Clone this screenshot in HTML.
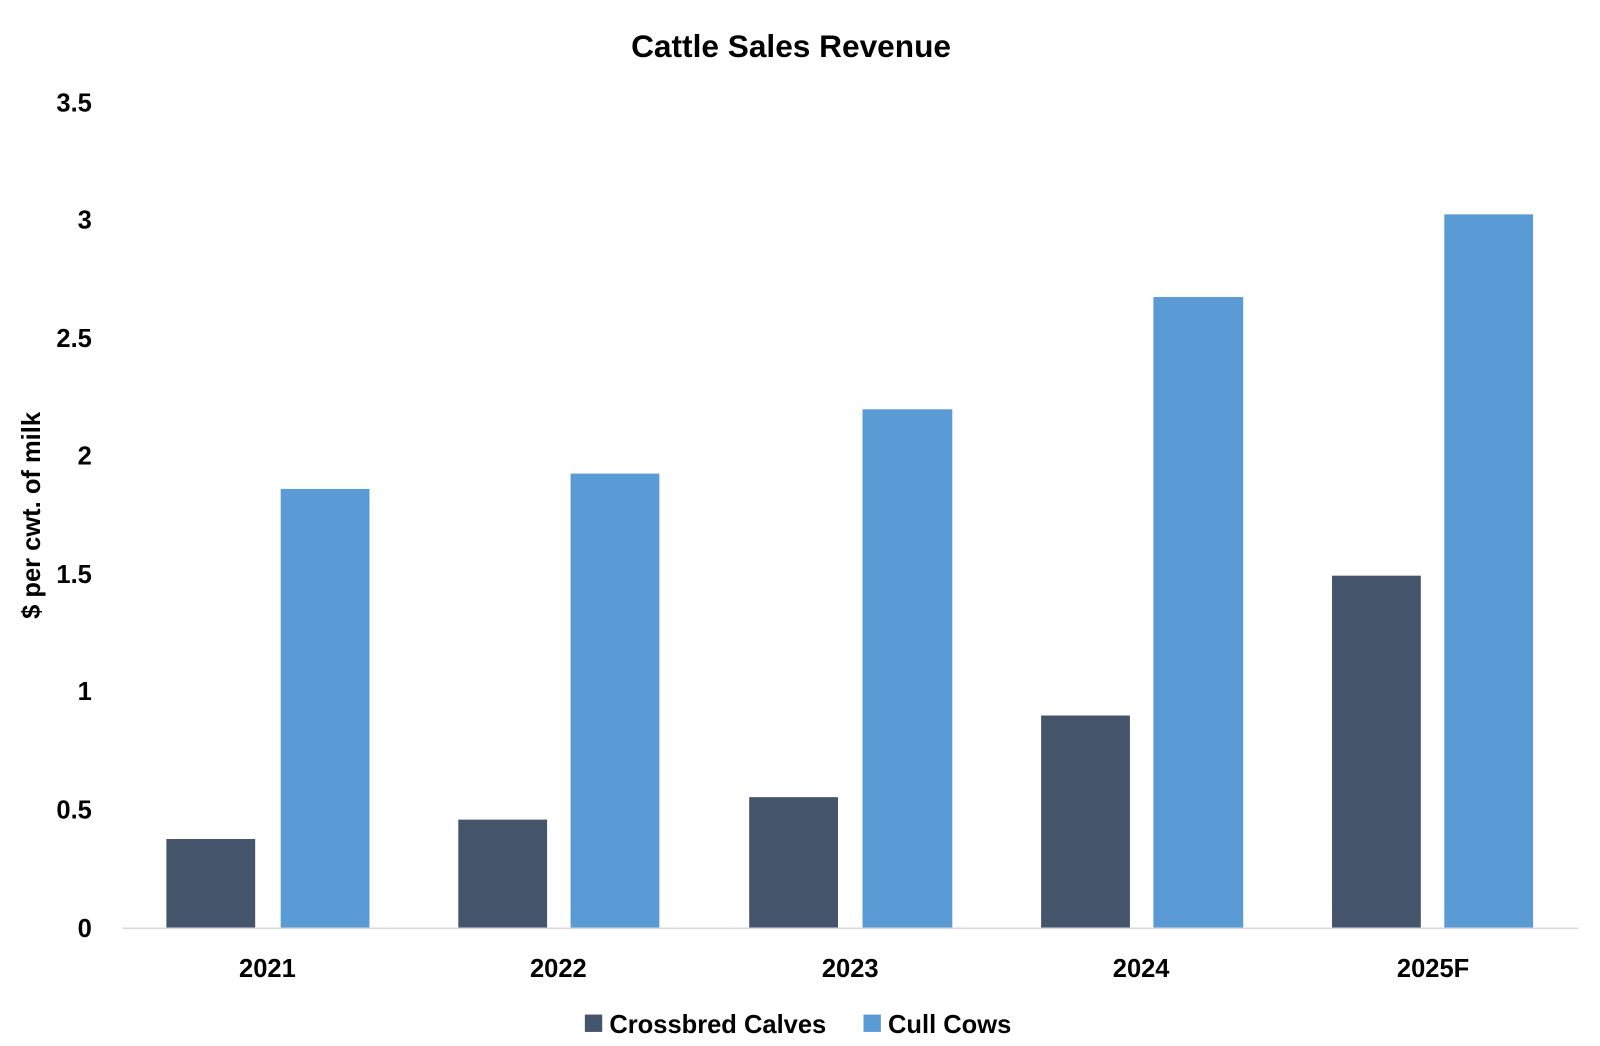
<!DOCTYPE html>
<html><head><meta charset="utf-8"><style>
html,body{margin:0;padding:0;background:#fff;}
svg{display:block;font-family:"Liberation Sans",Arial,sans-serif;font-weight:bold;}
</style></head><body>
<svg width="1600" height="1046" viewBox="0 0 1600 1046" xmlns="http://www.w3.org/2000/svg">
<rect width="1600" height="1046" fill="#fff"/>
<g transform="scale(1.0207)">
<text x="775" y="56" font-size="31" text-anchor="middle" fill="#000">Cattle Sales Revenue</text>
<g font-size="25" text-anchor="end" fill="#000">
<text x="90" y="918">0</text>
<text x="90" y="802">0.5</text>
<text x="90" y="686">1</text>
<text x="90" y="571">1.5</text>
<text x="90" y="455">2</text>
<text x="90" y="340">2.5</text>
<text x="90" y="224">3</text>
<text x="90" y="109">3.5</text>
</g>
<text transform="translate(39,505) rotate(-90)" font-size="25" text-anchor="middle" fill="#000">$ per cwt. of milk</text>
<g fill="#44546A">
<rect x="163" y="822" width="87" height="87"/>
<rect x="449" y="803" width="87" height="106"/>
<rect x="734" y="781" width="87" height="128"/>
<rect x="1020" y="701" width="87" height="208"/>
<rect x="1305" y="564" width="87" height="345"/>
</g>
<g fill="#5B9BD5">
<rect x="275" y="479" width="87" height="430"/>
<rect x="559" y="464" width="87" height="445"/>
<rect x="845" y="401" width="88" height="508"/>
<rect x="1130" y="291" width="88" height="618"/>
<rect x="1415" y="210" width="87" height="699"/>
</g>
<line x1="120" y1="909.5" x2="1546" y2="909.5" stroke="#d9d9d9" stroke-width="1.5"/>
<g font-size="25" text-anchor="middle" fill="#000">
<text x="262" y="957">2021</text>
<text x="547" y="957">2022</text>
<text x="833" y="957">2023</text>
<text x="1118" y="957">2024</text>
<text x="1404" y="957">2025F</text>
</g>
<rect x="573" y="994" width="17" height="17" fill="#44546A"/>
<text x="597" y="1012" font-size="25" fill="#000">Crossbred Calves</text>
<rect x="846" y="994" width="17" height="17" fill="#5B9BD5"/>
<text x="870" y="1012" font-size="25" fill="#000">Cull Cows</text>
</g>
</svg>
</body></html>
